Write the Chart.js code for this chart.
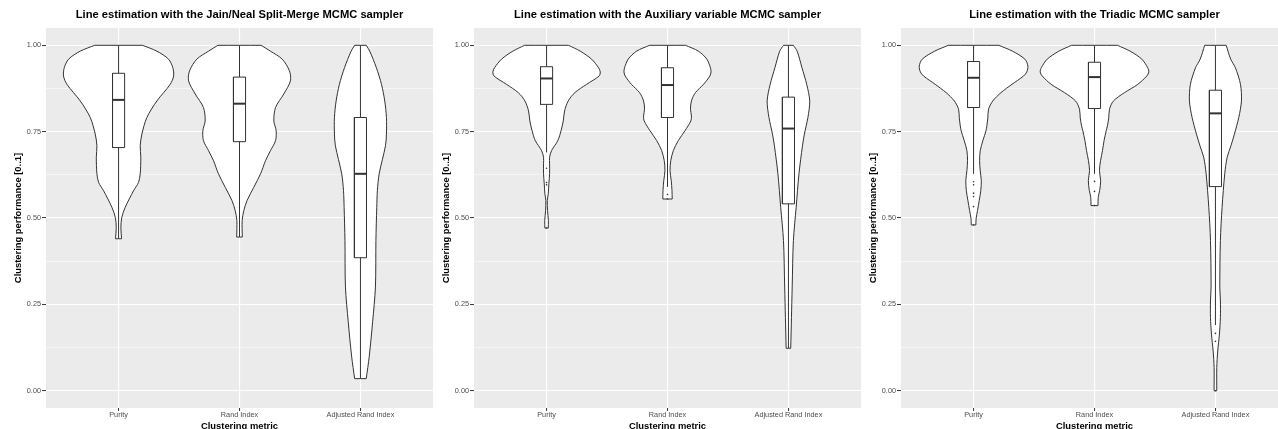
<!DOCTYPE html>
<html lang="en">
<head>
<meta charset="UTF-8">
<title>Line estimation - clustering performance</title>
<script src="https://cdn.jsdelivr.net/npm/chart.js"></script>
<style>
    html, body { margin: 0; padding: 0; background: #fff; overflow: hidden; }
    body { width: 1278px; height: 429px; position: relative; }
    .panel { position: absolute; top: 0; width: 440px; height: 445px; }
</style>
</head>
<body>
<div class="panel" style="left:0px"><canvas id="c0" width="440" height="445"></canvas></div>
<div class="panel" style="left:428px"><canvas id="c1" width="440" height="445"></canvas></div>
<div class="panel" style="left:855px"><canvas id="c2" width="440" height="445"></canvas></div>

<script>
// ---- data ----
const categories = ['Purity', 'Rand Index', 'Adjusted Rand Index'];
const panelTitles = [
    'Line estimation with the Jain/Neal Split-Merge MCMC sampler',
    'Line estimation with the Auxiliary variable MCMC sampler',
    'Line estimation with the Triadic MCMC sampler'
];
const yTickValues = [0, 0.25, 0.5, 0.75, 1];
const yMinorValues = [0.125, 0.375, 0.625, 0.875];

// violin outlines, top to bottom: [value, half width in category units]
const jnPurity = [[1.0,0.198],[0.983,0.317],[0.96,0.413],[0.935,0.449],[0.911,0.455],[0.887,0.427],[0.839,0.317],
    [0.791,0.234],[0.743,0.193],[0.709,0.179],[0.676,0.184],[0.628,0.179],[0.603,0.165],[0.579,0.124],[0.531,0.055],
    [0.502,0.027],[0.473,0.019],[0.44,0.025]];
const jnRand = [[1.0,0.179],[0.983,0.256],[0.96,0.353],[0.926,0.413],[0.897,0.421],[0.859,0.366],[0.82,0.298],
    [0.781,0.284],[0.753,0.303],[0.724,0.298],[0.695,0.256],[0.666,0.215],[0.628,0.174],[0.589,0.118],[0.551,0.063],
    [0.522,0.036],[0.493,0.022],[0.445,0.023]];
const jnAdjRand = [[1.0,0.048],[0.983,0.077],[0.935,0.132],[0.887,0.174],[0.839,0.201],[0.791,0.215],[0.743,0.215],
    [0.709,0.207],[0.628,0.155],[0.579,0.14],[0.531,0.135],[0.435,0.128],[0.3,0.124],[0.2,0.101],[0.1,0.073],[0.035,0.048]];

const auxPurity = [[1.0,0.182],[0.983,0.279],[0.96,0.372],[0.935,0.43],[0.923,0.444],[0.911,0.434],[0.887,0.331],
    [0.863,0.234],[0.839,0.179],[0.81,0.149],[0.781,0.138],[0.753,0.12],[0.724,0.093],[0.695,0.041],[0.676,0.025],
    [0.657,0.025],[0.628,0.025],[0.599,0.019],[0.57,0.014],[0.551,0.006],[0.522,0.008],[0.493,0.015],[0.471,0.014]];
const auxRand = [[1.0,0.149],[0.983,0.256],[0.96,0.325],[0.935,0.355],[0.923,0.36],[0.911,0.35],[0.887,0.298],
    [0.863,0.231],[0.839,0.198],[0.815,0.19],[0.795,0.198],[0.781,0.193],[0.753,0.145],[0.724,0.089],[0.695,0.048],
    [0.666,0.027],[0.637,0.021],[0.608,0.031],[0.58,0.037],[0.555,0.039]];
const auxAdjRand = [[1.0,0.041],[0.983,0.072],[0.935,0.112],[0.887,0.151],[0.839,0.176],[0.791,0.161],[0.743,0.132],
    [0.709,0.116],[0.628,0.087],[0.531,0.064],[0.435,0.041],[0.3,0.031],[0.212,0.025],[0.123,0.019]];

const triPurity = [[1.0,0.209],[0.983,0.322],[0.96,0.424],[0.94,0.449],[0.923,0.44],[0.911,0.413],[0.887,0.317],
    [0.863,0.227],[0.839,0.159],[0.815,0.124],[0.79,0.118],[0.767,0.11],[0.753,0.103],[0.724,0.077],[0.695,0.055],
    [0.666,0.05],[0.637,0.055],[0.608,0.064],[0.58,0.06],[0.551,0.047],[0.522,0.033],[0.498,0.021],[0.48,0.019]];
const triRand = [[1.0,0.19],[0.983,0.295],[0.96,0.391],[0.935,0.44],[0.923,0.449],[0.911,0.432],[0.887,0.358],
    [0.863,0.248],[0.839,0.157],[0.815,0.124],[0.79,0.118],[0.767,0.107],[0.753,0.097],[0.724,0.079],[0.695,0.066],
    [0.666,0.05],[0.637,0.041],[0.608,0.051],[0.58,0.043],[0.56,0.031],[0.536,0.029]];
const triAdjRand = [[1.0,0.089],[0.96,0.126],[0.935,0.165],[0.887,0.207],[0.839,0.215],[0.791,0.193],[0.743,0.157],
    [0.709,0.128],[0.676,0.097],[0.628,0.077],[0.531,0.055],[0.435,0.041],[0.3,0.036],[0.26,0.041],[0.212,0.041],
    [0.164,0.033],[0.115,0.019],[0.067,0.011],[0.0,0.011]];

// boxplots: [lower whisker, q1, median, q3, upper whisker] per metric
const jnBoxes = [[0.44,0.704,0.842,0.919,1.0],[0.445,0.721,0.831,0.908,1.0],[0.035,0.385,0.628,0.791,1.0]];
const auxBoxes = [[0.69,0.829,0.904,0.938,1.0],[0.59,0.791,0.885,0.935,1.0],[0.123,0.541,0.759,0.85,1.0]];
const triBoxes = [[0.628,0.82,0.906,0.953,1.0],[0.628,0.817,0.908,0.951,1.0],[0.19,0.591,0.803,0.87,1.0]];

const jnOutliers = [[], [], []];
const auxOutliers = [[0.644,0.603,0.596,0.471], [0.568,0.555], []];
const triOutliers = [[0.605,0.596,0.572,0.562,0.533,0.48], [0.606,0.577,0.536], [0.166,0.143,0.0]];

const panels = [
    { id: 'c0', title: panelTitles[0], violins: [jnPurity, jnRand, jnAdjRand], boxes: jnBoxes, outliers: jnOutliers },
    { id: 'c1', title: panelTitles[1], violins: [auxPurity, auxRand, auxAdjRand], boxes: auxBoxes, outliers: auxOutliers },
    { id: 'c2', title: panelTitles[2], violins: [triPurity, triRand, triAdjRand], boxes: triBoxes, outliers: triOutliers }
];

// ---- drawing ----
const FONT = '"Liberation Sans", Arial, Helvetica, sans-serif';
const INK = '#333333';
const BOX_HALF = 0.05;
Chart.defaults.font.family = FONT;

// grey panel like ggplot's theme_gray
const panelBg = {
    id: 'panelBg',
    beforeDraw(chart) {
        const { ctx, chartArea: a } = chart;
        ctx.save();
        ctx.fillStyle = '#EBEBEB';
        ctx.fillRect(a.left, a.top, a.right - a.left, a.bottom - a.top);
        ctx.restore();
    }
};

// outline of a violin: right side going down, left side going up;
// corner points repeated so the flat trimmed ends stay straight
function violinOutline(c, profile) {
    const n = profile.length;
    const right = profile.map(([y, w]) => ({ x: c + w, y }));
    const left = profile.map(([y, w]) => ({ x: c - w, y })).reverse();
    return [
        left[n - 1],
        right[0], right[0],
        ...right.slice(1, n - 1),
        right[n - 1], right[n - 1],
        left[0], left[0],
        ...left.slice(1, n - 1),
        left[n - 1]
    ];
}

function buildDatasets(p) {
    const sets = [];
    categories.forEach((cat, i) => {
        const c = i + 1;
        const [lo, q1, med, q3, hi] = p.boxes[i];
        sets.push({
            data: violinOutline(c, p.violins[i]), showLine: true, fill: 'shape', tension: 0.3,
            backgroundColor: '#ffffff', borderColor: INK, borderWidth: 1, pointRadius: 0, order: 4
        });
        sets.push({
            data: [{ x: c, y: lo }, { x: c, y: hi }], showLine: true, fill: false,
            borderColor: INK, borderWidth: 1, pointRadius: 0, order: 3
        });
        sets.push({
            data: [{ x: c - BOX_HALF, y: q1 }, { x: c + BOX_HALF, y: q1 }, { x: c + BOX_HALF, y: q3 },
                   { x: c - BOX_HALF, y: q3 }, { x: c - BOX_HALF, y: q1 }],
            showLine: true, fill: 'shape', tension: 0,
            backgroundColor: '#ffffff', borderColor: INK, borderWidth: 1, pointRadius: 0, order: 2
        });
        sets.push({
            data: [{ x: c - BOX_HALF, y: med }, { x: c + BOX_HALF, y: med }], showLine: true, fill: false,
            borderColor: INK, borderWidth: 2, pointRadius: 0, order: 1
        });
        sets.push({
            data: p.outliers[i].map(v => ({ x: c, y: v })), showLine: false,
            pointRadius: 0.8, pointBackgroundColor: INK, pointBorderWidth: 0, order: 0
        });
    });
    return sets;
}

panels.forEach(p => {
    new Chart(document.getElementById(p.id), {
        type: 'scatter',
        data: { datasets: buildDatasets(p) },
        options: {
            responsive: false,
            animation: false,
            events: [],
            layout: { padding: { left: 0, right: 7, top: 0, bottom: 0 } },
            plugins: {
                legend: { display: false },
                tooltip: { enabled: false },
                title: {
                    display: true, text: p.title, fullSize: false, color: '#000000',
                    font: { size: 11.2, weight: 'bold' }, padding: { top: 8.6, bottom: 6 }
                }
            },
            scales: {
                x: {
                    type: 'linear', min: 0.4, max: 3.6,
                    afterBuildTicks: s => { s.ticks = categories.map((_, i) => ({ value: i + 1 })); },
                    afterFit: s => { s.height = 37; },
                    ticks: {
                        autoSkip: false, maxRotation: 0, padding: 0, color: '#4D4D4D', font: { size: 7.3 },
                        callback: v => categories[v - 1] || ''
                    },
                    grid: { color: '#ffffff', lineWidth: 1.1, tickColor: INK, tickLength: 3, tickWidth: 1 },
                    border: { display: false },
                    title: {
                        display: true, text: 'Clustering metric', color: '#000000',
                        font: { size: 9.4, weight: 'bold' }, padding: { top: 0, bottom: 12.9 }
                    }
                },
                y: {
                    type: 'linear', min: -0.05, max: 1.05,
                    afterBuildTicks: s => {
                        s.ticks = [...yTickValues, ...yMinorValues].sort((a, b) => a - b).map(v => ({ value: v }));
                    },
                    afterFit: s => { s.width = 46; },
                    ticks: {
                        autoSkip: false, padding: 1, color: '#4D4D4D', font: { size: 7.3 },
                        callback: v => yTickValues.includes(v) ? v.toFixed(2) : ''
                    },
                    grid: {
                        color: '#ffffff',
                        lineWidth: ctx => yTickValues.includes(ctx.tick.value) ? 1.1 : 0.55,
                        tickColor: ctx => yTickValues.includes(ctx.tick.value) ? INK : 'rgba(0,0,0,0)',
                        tickLength: 4, tickWidth: 1
                    },
                    border: { display: false },
                    title: {
                        display: true, text: 'Clustering performance [0..1]', color: '#000000',
                        font: { size: 9.4, weight: 'bold' }, padding: { top: 12.7, bottom: 0 }
                    }
                }
            }
        },
        plugins: [panelBg]
    });
});
</script>
</body>
</html>
